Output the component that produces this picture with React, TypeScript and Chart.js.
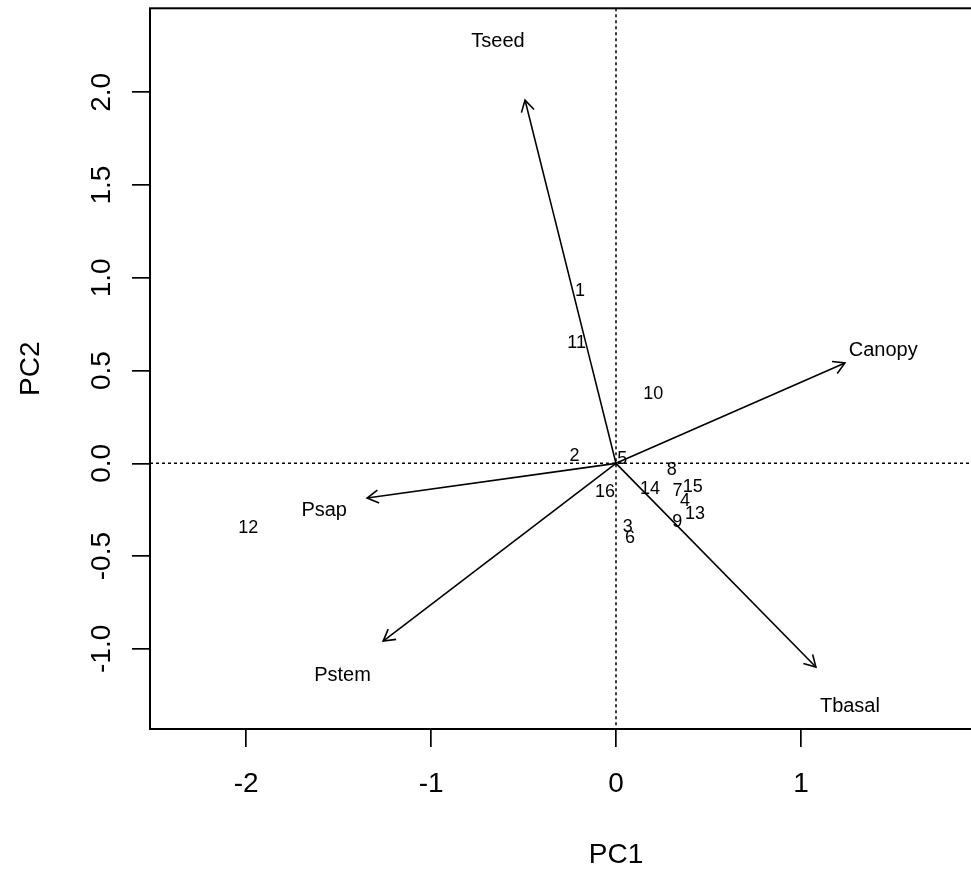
import { useEffect, useRef } from 'react';
import { Chart, registerables } from 'chart.js';

Chart.register(...registerables);

// Sample scores (observation labels 1..16)
const sampleLabels = ['1', '2', '3', '4', '5', '6', '7', '8', '9', '10', '11', '12', '13', '14', '15', '16'];
const sampleX = [-0.195, -0.225, 0.063, 0.373, 0.034, 0.076, 0.333, 0.301, 0.331, 0.202, -0.213, -1.989, 0.427, 0.184, 0.415, -0.059];
const sampleY = [0.938, 0.045, -0.336, -0.194, 0.032, -0.392, -0.139, -0.027, -0.306, 0.383, 0.656, -0.343, -0.264, -0.131, -0.121, -0.148];

// Variable loadings (arrows) and their label positions
const varNames = ['Tseed', 'Canopy', 'Tbasal', 'Pstem', 'Psap'];
const arrowX = [-0.492, 1.238, 1.081, -1.259, -1.346];
const arrowY = [1.958, 0.541, -1.098, -0.958, -0.187];
const labelX = [-0.638, 1.445, 1.265, -1.479, -1.578];
const labelY = [2.282, 0.615, -1.303, -1.132, -0.243];

// Axes
const xTickValues = [-2, -1, 0, 1];
const yTickValues = [-1, -0.5, 0, 0.5, 1, 1.5, 2];
const xLimits = [-2.52, 2.52];
const yLimits = [-1.432, 2.453];
const xTitle = 'PC1';
const yTitle = 'PC2';

const FONT = '"Liberation Sans", Arial, Helvetica, sans-serif';
const CANVAS_W = 1100;
const CANVAS_H = 876;

const biplotPlugin = {
  id: 'biplot',
  beforeDatasetsDraw(chart: any) {
    const { ctx, chartArea: a, scales } = chart;
    const x0 = scales.x.getPixelForValue(0);
    const y0 = scales.y.getPixelForValue(0);
    ctx.save();
    ctx.strokeStyle = '#000';
    ctx.lineWidth = 1.5;
    ctx.setLineDash([3, 3]);
    ctx.beginPath();
    ctx.moveTo(a.left, y0);
    ctx.lineTo(a.right, y0);
    ctx.moveTo(x0, a.top);
    ctx.lineTo(x0, a.bottom);
    ctx.stroke();
    ctx.restore();
  },
  afterDatasetsDraw(chart: any) {
    const { ctx, chartArea: a } = chart;
    ctx.save();
    chart.data.datasets.forEach((ds: any, i: number) => {
      const meta = chart.getDatasetMeta(i);
      if (ds.role === 'arrow') {
        const p0 = meta.data[0];
        const p1 = meta.data[1];
        const ang = Math.atan2(p1.y - p0.y, p1.x - p0.x);
        const L = 13;
        const th = Math.PI / 6;
        ctx.strokeStyle = '#000';
        ctx.lineWidth = 1.6;
        ctx.setLineDash([]);
        ctx.beginPath();
        ctx.moveTo(p1.x - L * Math.cos(ang - th), p1.y - L * Math.sin(ang - th));
        ctx.lineTo(p1.x, p1.y);
        ctx.lineTo(p1.x - L * Math.cos(ang + th), p1.y - L * Math.sin(ang + th));
        ctx.stroke();
      } else if (ds.role === 'text') {
        const size = ds.fontSize;
        ctx.fillStyle = '#000';
        ctx.font = `${size}px ${FONT}`;
        ctx.textAlign = 'center';
        ctx.textBaseline = 'alphabetic';
        meta.data.forEach((pt: any, j: number) => {
          ctx.fillText(ds.texts[j], pt.x, pt.y + 0.36 * size);
        });
      }
    });
    // plot frame
    ctx.strokeStyle = '#000';
    ctx.lineWidth = 2;
    ctx.setLineDash([]);
    ctx.strokeRect(a.left, a.top, a.right - a.left, a.bottom - a.top);
    ctx.restore();
  },
};

export default function App() {
  const ref = useRef<HTMLCanvasElement | null>(null);

  useEffect(() => {
    const canvas = ref.current;
    if (!canvas) return;

    const arrowDatasets = varNames.map((name, i) => ({
      label: name,
      role: 'arrow',
      data: [
        { x: 0, y: 0 },
        { x: arrowX[i], y: arrowY[i] },
      ],
      showLine: true,
      borderColor: '#000',
      borderWidth: 1.6,
      pointRadius: 0,
      pointHoverRadius: 0,
      fill: false,
    }));

    const sampleDataset = {
      label: 'samples',
      role: 'text',
      texts: sampleLabels,
      fontSize: 18,
      data: sampleX.map((x, i) => ({ x, y: sampleY[i] })),
      pointRadius: 0,
      pointHoverRadius: 0,
      showLine: false,
    };

    const varLabelDataset = {
      label: 'variables',
      role: 'text',
      texts: varNames,
      fontSize: 20,
      data: labelX.map((x, i) => ({ x, y: labelY[i] })),
      pointRadius: 0,
      pointHoverRadius: 0,
      showLine: false,
    };

    const tickFont = { size: 28, family: FONT };

    const chart = new Chart(canvas, {
      type: 'scatter',
      data: { datasets: [...arrowDatasets, sampleDataset, varLabelDataset] as any },
      options: {
        responsive: false,
        animation: false,
        devicePixelRatio: 1,
        layout: { padding: { top: 8.3, right: CANVAS_W - 1082, left: 0, bottom: 0 } },
        plugins: {
          legend: { display: false },
          tooltip: { enabled: false },
        },
        events: [],
        scales: {
          x: {
            type: 'linear',
            min: xLimits[0],
            max: xLimits[1],
            afterBuildTicks: (s: any) => {
              s.ticks = xTickValues.map((v) => ({ value: v }));
            },
            afterFit: (s: any) => {
              s.height = CANVAS_H - 729;
              s.paddingLeft = 0;
              s.paddingRight = 0;
            },
            ticks: {
              callback: (v: any) => String(v),
              font: tickFont,
              color: '#000',
              padding: 20,
              maxRotation: 0,
              minRotation: 0,
              autoSkip: false,
            },
            grid: {
              drawOnChartArea: false,
              drawTicks: true,
              tickLength: 18,
              color: '#000',
              lineWidth: 1.7,
            },
            border: { display: false },
            title: {
              display: true,
              text: xTitle,
              color: '#000',
              font: tickFont,
              padding: { top: 4, bottom: 4 },
            },
          },
          y: {
            type: 'linear',
            min: yLimits[0],
            max: yLimits[1],
            afterBuildTicks: (s: any) => {
              s.ticks = yTickValues.map((v) => ({ value: v }));
            },
            afterFit: (s: any) => {
              s.width = 150;
              s.paddingTop = 0;
              s.paddingBottom = 0;
            },
            ticks: {
              callback: (v: any) => Number(v).toFixed(1),
              font: tickFont,
              color: '#000',
              padding: 6,
              minRotation: 90,
              maxRotation: 90,
              crossAlign: 'center',
              autoSkip: false,
            },
            grid: {
              drawOnChartArea: false,
              drawTicks: true,
              tickLength: 18,
              color: '#000',
              lineWidth: 1.7,
            },
            border: { display: false },
            title: {
              display: true,
              text: yTitle,
              color: '#000',
              font: tickFont,
              padding: { top: 14, bottom: 14 },
            },
          },
        },
      } as any,
      plugins: [biplotPlugin],
    });

    return () => chart.destroy();
  }, []);

  return (
    <div
      style={{
        position: 'fixed',
        left: 0,
        top: 0,
        width: 971,
        height: 876,
        overflow: 'hidden',
        background: '#fff',
      }}
    >
      <canvas
        ref={ref}
        width={CANVAS_W}
        height={CANVAS_H}
        style={{ width: CANVAS_W, height: CANVAS_H, display: 'block' }}
      />
    </div>
  );
}
